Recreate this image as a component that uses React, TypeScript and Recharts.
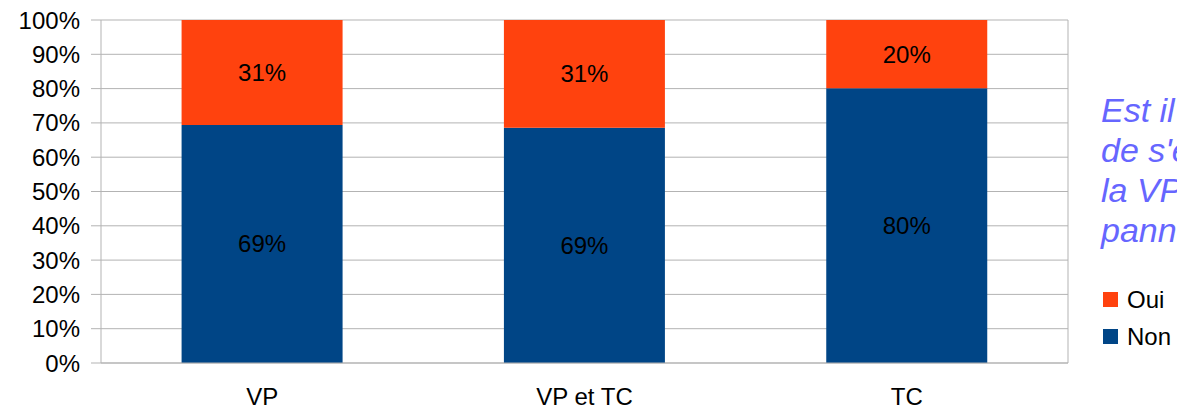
import React from 'react';
import {
  BarChart,
  Bar,
  XAxis,
  YAxis,
  CartesianGrid,
  Legend,
  LabelList
} from 'recharts';

const categories = ['VP', 'VP et TC', 'TC'];
const nonValues = [69.4, 68.6, 80.1];
const ouiValues = [30.6, 31.4, 19.9];
const yTicks = [0, 10, 20, 30, 40, 50, 60, 70, 80, 90, 100];
const boundaryTicks = [0, 1, 2, 3];
const titleLines = ['Est il possible', "de s'en passer", 'la VP en cas de', 'panne ?'];

const data = categories.map((cat, i) => ({ cat, Non: nonValues[i], Oui: ouiValues[i] }));

const FONT = '"Liberation Sans", Arial, sans-serif';
const GRID = '#b3b3b3';

const renderLegend = (props: any) => {
  const items = [...(props.payload || [])].sort((a: any, b: any) => (a.value === 'Oui' ? -1 : b.value === 'Oui' ? 1 : 0));
  return (
    <div style={{ fontFamily: FONT, fontSize: 24, color: '#000' }}>
      {items.map((it: any) => (
        <div key={it.value} style={{ display: 'flex', alignItems: 'center', height: 37 }}>
          <span style={{ display: 'inline-block', width: 15, height: 15, background: it.color, marginRight: 9 }} />
          <span>{it.value}</span>
        </div>
      ))}
    </div>
  );
};

const pct = (v: any) => `${Math.round(Number(v))}%`;

export default function App() {
  return (
    <div style={{ position: 'absolute', left: 0, top: 0, width: 1177, height: 410, overflow: 'hidden', background: '#fff' }}>
      <BarChart
        width={1177}
        height={410}
        data={data}
        margin={{ top: 20, right: 0, left: 0, bottom: 0 }}
        barCategoryGap="25%"
      >
        <CartesianGrid vertical={false} stroke={GRID} yAxisId="left" />
        <XAxis
          xAxisId="bounds"
          type="number"
          domain={[0, 3]}
          ticks={boundaryTicks}
          tick={false}
          tickSize={10}
          axisLine={false}
          tickLine={{ stroke: GRID }}
          height={0}
        />
        <XAxis
          dataKey="cat"
          tickLine={false}
          axisLine={{ stroke: GRID }}
          tickSize={10}
          tickMargin={15}
          height={47}
          tick={{ fontFamily: FONT, fontSize: 24, fill: '#000' }}
        />
        <YAxis
          yAxisId="left"
          domain={[0, 100]}
          ticks={yTicks}
          tickFormatter={(v: number) => `${v}%`}
          width={101}
          tickSize={10}
          tickMargin={11}
          axisLine={{ stroke: GRID }}
          tickLine={{ stroke: GRID }}
          tick={{ fontFamily: FONT, fontSize: 24, fill: '#000' }}
        />
        <YAxis
          yAxisId="right"
          orientation="right"
          domain={[0, 100]}
          tick={false}
          tickLine={false}
          axisLine={{ stroke: GRID }}
          width={109}
        />
        <Legend
          layout="vertical"
          align="center"
          verticalAlign="middle"
          content={renderLegend}
          wrapperStyle={{ left: 1103, top: 281, width: 74 }}
        />
        <Bar dataKey="Non" name="Non" stackId="a" yAxisId="left" fill="#004586" isAnimationActive={false}>
          <LabelList dataKey="Non" position="center" formatter={pct} style={{ fontFamily: FONT, fontSize: 24, fill: '#000' }} />
        </Bar>
        <Bar dataKey="Oui" name="Oui" stackId="a" yAxisId="left" fill="#ff420e" isAnimationActive={false}>
          <LabelList dataKey="Oui" position="center" formatter={pct} style={{ fontFamily: FONT, fontSize: 24, fill: '#000' }} />
        </Bar>
      </BarChart>
      <div
        style={{
          position: 'absolute',
          left: 1101,
          top: 90,
          fontFamily: FONT,
          fontStyle: 'italic',
          fontSize: 34,
          lineHeight: '40px',
          color: '#6666ff',
          whiteSpace: 'nowrap'
        }}
      >
        {titleLines.map(l => (
          <div key={l}>{l}</div>
        ))}
      </div>
    </div>
  );
}
